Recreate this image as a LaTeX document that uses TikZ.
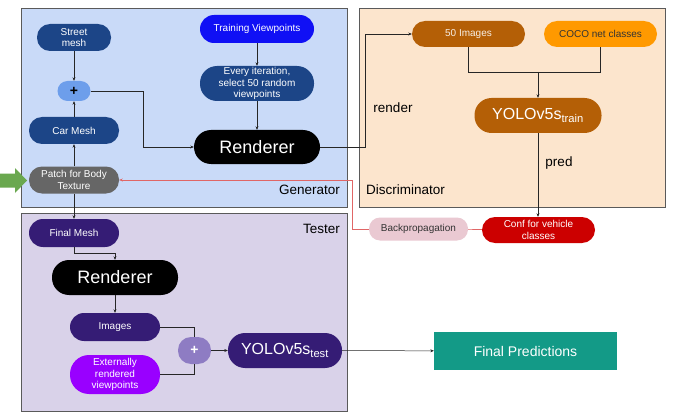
\documentclass[tikz,border=0pt]{standalone}
\usepackage{fontspec}
\setmainfont{Liberation Sans}
\usetikzlibrary{arrows.meta}
\definecolor{genbg}{HTML}{C9DAF8}
\definecolor{discbg}{HTML}{FCE5CD}
\definecolor{testbg}{HTML}{D9D2E9}
\definecolor{framec}{HTML}{5A5A5A}
\definecolor{dblue}{HTML}{1C4587}
\definecolor{lblue}{HTML}{6D9EEB}
\definecolor{bblue}{HTML}{1010F5}
\definecolor{pgray}{HTML}{666666}
\definecolor{brownc}{HTML}{B45F06}
\definecolor{orangec}{HTML}{FF9900}
\definecolor{redc}{HTML}{CC0000}
\definecolor{pinkc}{HTML}{EAC9D2}
\definecolor{dpurple}{HTML}{351C75}
\definecolor{vpurple}{HTML}{9900FF}
\definecolor{mpurple}{HTML}{8E7CC3}
\definecolor{tealc}{HTML}{139A87}
\definecolor{greenc}{HTML}{6AA84F}
\definecolor{redline}{HTML}{E06666}
\begin{document}
\begin{tikzpicture}[x=1pt,y=-1pt,
  pill/.style={draw=none, text=white, align=center, inner sep=0pt,
    font=\fontsize{10}{11.5}\selectfont},
  big/.style={pill, font=\fontsize{18}{20}\selectfont},
  yolo/.style={pill, font=\fontsize{16}{18}\selectfont},
  frame/.style={draw=framec, line width=0.8pt},
  lbl/.style={font=\fontsize{13.5}{15}\selectfont, text=black, inner sep=0pt},
  arr/.style={draw=black!85, line width=0.5pt, -{Stealth[length=3.5pt,width=3pt]}},
  ln/.style={draw=black!85, line width=0.5pt},
  rln/.style={draw=redline, line width=0.6pt}
]
\useasboundingbox (0,0) rectangle (673,420);
% frames
\fill[white] (0,0) rectangle (673,420);
\path[frame, fill=genbg] (21,8) rectangle (347,207);
\path[frame, fill=discbg] (359,8) rectangle (665,207);
\path[frame, fill=testbg] (21,213) rectangle (347,411);

% green input arrow
\fill[greenc] (0,173.5) -- (15,173.5) -- (15,168) -- (27,180.5) -- (15,193) -- (15,187.5) -- (0,187.5) -- cycle;

% generator
\node[pill, fill=dblue, minimum width=74pt, minimum height=27pt, rounded corners=13pt] (street) at (74,37.5) {Street\\mesh};
\node[pill, fill=lblue, text=black, minimum width=33pt, minimum height=20pt, rounded corners=10pt, font=\bfseries\fontsize{14}{14}\selectfont] (plus1) at (74,91) {+};
\node[pill, fill=dblue, minimum width=90pt, minimum height=27pt, rounded corners=13pt] (car) at (74,130.5) {Car Mesh};
\node[pill, fill=pgray, minimum width=90pt, minimum height=27pt, rounded corners=13pt] (patch) at (74,180) {Patch for Body\\Texture};
\node[pill, fill=bblue, minimum width=114pt, minimum height=28pt, rounded corners=14pt] (train) at (257,29) {Training Viewpoints};
\node[pill, fill=dblue, minimum width=114pt, minimum height=35pt, rounded corners=17pt] (every) at (257,83.5) {Every iteration,\\select 50 random\\viewpoints};
\node[big, fill=black, minimum width=126pt, minimum height=34pt, rounded corners=17pt] (rend1) at (257,147) {Renderer};
\node[lbl, anchor=east] (genl) at (340,190) {Generator};

% discriminator
\node[pill, fill=brownc, text=white!90!brownc, minimum width=113pt, minimum height=26pt, rounded corners=13pt] (img50) at (468.5,34) {50 Images};
\node[pill, fill=orangec, text=black!80, minimum width=113pt, minimum height=26pt, rounded corners=13pt] (coco) at (600.5,34) {COCO net classes};
\node[yolo, fill=brownc, minimum width=127pt, minimum height=35pt, rounded corners=17pt] (yolot) at (538,115.5) {YOLOv5s$_{\mathrm{train}}$};
\node[lbl] (renderl) at (393,108) {render};
\node[lbl] (predl) at (559,163) {pred};
\node[lbl, anchor=west] (discl) at (366,190) {Discriminator};
\node[pill, fill=redc, minimum width=113pt, minimum height=26pt, rounded corners=13pt] (conf) at (538.5,230) {Conf for vehicle\\classes};
\node[pill, fill=pinkc, text=black!80, minimum width=99pt, minimum height=23pt, rounded corners=11pt] (back) at (418.5,229) {Backpropagation};

% tester
\node[pill, fill=dpurple, minimum width=90pt, minimum height=28pt, rounded corners=14pt] (fmesh) at (74,233) {Final Mesh};
\node[lbl, anchor=east] (testl) at (340,229) {Tester};
\node[big, fill=black, minimum width=126pt, minimum height=35pt, rounded corners=17pt] (rend2) at (115,277.5) {Renderer};
\node[pill, fill=dpurple, minimum width=90pt, minimum height=28pt, rounded corners=14pt] (images) at (115,327) {Images};
\node[pill, fill=vpurple, minimum width=90pt, minimum height=39pt, rounded corners=19pt] (ext) at (115,374.5) {Externally\\rendered\\viewpoints};
\node[pill, fill=mpurple, minimum width=33pt, minimum height=27pt, rounded corners=13pt, font=\bfseries\fontsize{14}{14}\selectfont] (plus2) at (194.5,350.5) {+};
\node[yolo, fill=dpurple, minimum width=114pt, minimum height=35pt, rounded corners=17pt] (yolos) at (285,350.5) {YOLOv5s$_{\mathrm{test}}$};
\node[pill, fill=tealc, minimum width=183pt, minimum height=38pt, font=\fontsize{14}{16}\selectfont] (final) at (525.5,351) {Final Predictions};

% connectors generator
\draw[arr] (street) -- (plus1);
\draw[arr] (car) -- (plus1);
\draw[arr] (patch) -- (car);
\draw[arr] (train) -- (every);
\draw[arr] (every) -- (rend1);
\draw[arr] (plus1.east) -- ++(52.5,0) |- (rend1.west);
\draw[arr] (rend1.east) -- ++(45,0) |- (img50.west);
% discriminator
\coordinate (merge) at (538,72);
\draw[ln] (img50.south) -- ++(0,25) -| (coco.south);
\draw[arr] (merge) -- (yolot.north);
\draw[arr] (yolot.south) -- (yolot.south |- conf.north);
\draw[rln] (conf) -- (back);
\draw[rln, -{Stealth[length=3.5pt,width=3pt]}] (back.west) -- ++(-17,0) |- (patch.east);
% tester
\draw[arr] (patch) -- (fmesh);
\draw[arr] (fmesh.south) -- ++(0,6) -| (rend2.north);
\draw[arr] (rend2) -- (images);
\draw[ln] (images.east) -| (plus2.north);
\draw[ln] (ext.east) -| (plus2.south);
\draw[arr] (plus2) -- (yolos);
\draw[arr] (yolos) -- (final);
\end{tikzpicture}
\end{document}
